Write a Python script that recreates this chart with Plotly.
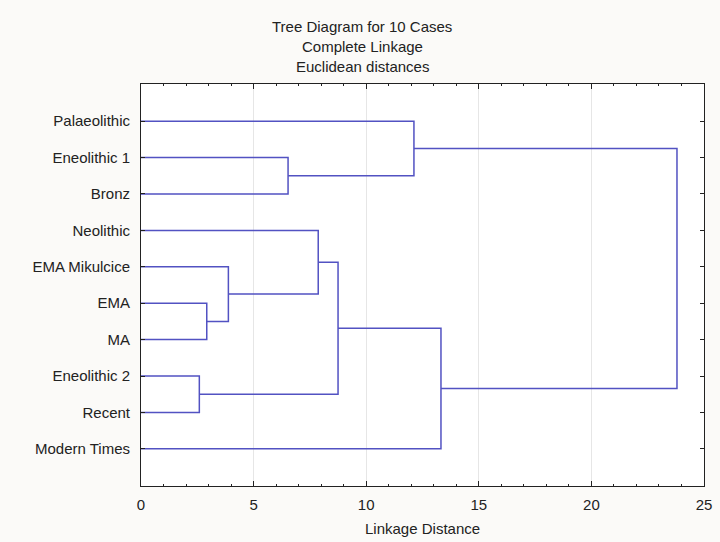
import plotly.graph_objects as go

# Leaves, top to bottom
labels = ["Palaeolithic", "Eneolithic 1", "Bronz", "Neolithic", "EMA Mikulcice",
          "EMA", "MA", "Eneolithic 2", "Recent", "Modern Times"]

# Linkage: cluster ids 0-9 are leaves, 10+ are merges in this order
merge_left = [5, 7, 4, 1, 3, 14, 0, 15, 16]
merge_right = [6, 8, 10, 2, 12, 11, 13, 9, 17]
merge_height = [2.92, 2.59, 3.88, 6.53, 7.87, 8.75, 12.12, 13.32, 23.8]

title_lines = ["Tree Diagram for 10 Cases", "Complete Linkage", "Euclidean distances"]
x_title = "Linkage Distance"

n = len(labels)
pos_y = {i: float(i) for i in range(n)}
pos_x = {i: 0.0 for i in range(n)}
xs, ys = [], []
for k, (a, b, h) in enumerate(zip(merge_left, merge_right, merge_height)):
    cid = n + k
    xs += [pos_x[a], h, h, pos_x[b], None]
    ys += [pos_y[a], pos_y[a], pos_y[b], pos_y[b], None]
    pos_x[cid] = h
    pos_y[cid] = (pos_y[a] + pos_y[b]) / 2

line_color = "#5252c2"
axis_color = "#222222"
font_family = "Liberation Sans, Arial, sans-serif"

W, H = 720, 542
ML, MR, MT, MB = 141, 16, 84, 56

fig = go.Figure()
fig.add_trace(go.Scatter(x=xs, y=ys, mode="lines",
                         line=dict(color=line_color, width=1.5),
                         hoverinfo="skip", showlegend=False))

fig.update_layout(
    width=W, height=H,
    margin=dict(l=ML, r=MR, t=MT, b=MB),
    paper_bgcolor="#fbfaf8",
    plot_bgcolor="#ffffff",
    font=dict(family=font_family, size=15, color="#222222"),
    showlegend=False,
)

plot_h = H - MT - MB
plot_w = W - ML - MR
title_y_px = [26, 46, 66]
for t, ypx in zip(title_lines, title_y_px):
    yp = 1 + (MT - ypx) / plot_h
    fig.add_annotation(text=t, xref="paper", yref="paper",
                       x=(362 - ML) / plot_w, y=yp,
                       showarrow=False, xanchor="center", yanchor="middle",
                       font=dict(size=15, color="#222222"))

# x-axis title placed below the tick labels
fig.add_annotation(text=x_title, xref="paper", yref="paper", x=0.5,
                   y=-(528 - (H - MB)) / plot_h,
                   showarrow=False, xanchor="center", yanchor="middle",
                   font=dict(size=15, color="#222222"))

fig.update_xaxes(
    range=[0, 25], tickmode="linear", tick0=0, dtick=5,
    ticks="inside", ticklen=5, tickcolor=axis_color,
    showline=True, linecolor=axis_color, linewidth=1, mirror="ticks",
    showgrid=True, gridcolor="#e6e6e6", gridwidth=1, zeroline=False,
    minor=dict(dtick=1, ticks="inside", ticklen=2, tickcolor=axis_color, showgrid=False),
    tickfont=dict(size=15), ticklabelstandoff=5, automargin=False,
)
fig.update_yaxes(
    range=[10.02, -1.02], tickmode="array", tickvals=list(range(n)), ticktext=labels,
    ticks="inside", ticklen=4, tickcolor=axis_color,
    showline=True, linecolor=axis_color, linewidth=1, mirror="ticks",
    showgrid=False, zeroline=False, ticklabelstandoff=7, automargin=False,
    tickfont=dict(size=15),
)

fig.write_html("out.html", config={"displayModeBar": False},
               post_script="document.body.style.margin='0';")
